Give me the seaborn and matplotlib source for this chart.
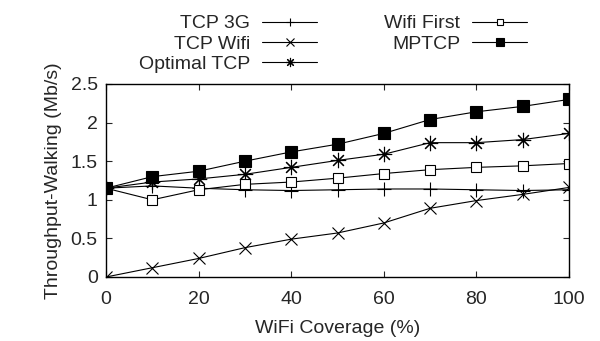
import pandas as pd
import matplotlib
matplotlib.use('Agg')
import matplotlib.pyplot as plt
import seaborn as sns

# Values
coverage = [0, 10, 20, 30, 40, 50, 60, 70, 80, 90, 100]
tcp_3g = [1.15, 1.18, 1.15, 1.13, 1.12, 1.13, 1.14, 1.14, 1.13, 1.12, 1.13]
tcp_wifi = [0.0, 0.12, 0.24, 0.38, 0.49, 0.57, 0.70, 0.89, 0.99, 1.07, 1.16]
optimal_tcp = [1.15, 1.23, 1.27, 1.33, 1.42, 1.51, 1.59, 1.74, 1.74, 1.78, 1.86]
wifi_first = [1.15, 1.00, 1.13, 1.20, 1.23, 1.28, 1.34, 1.39, 1.42, 1.44, 1.47]
mptcp = [1.15, 1.30, 1.37, 1.50, 1.62, 1.72, 1.86, 2.04, 2.14, 2.21, 2.30]

series = {
    'TCP 3G': tcp_3g,
    'TCP Wifi': tcp_wifi,
    'Optimal TCP': optimal_tcp,
    'Wifi First': wifi_first,
    'MPTCP': mptcp,
}
markers = {
    'TCP 3G': dict(marker='+', markersize=10, mfc='black'),
    'TCP Wifi': dict(marker='x', markersize=9, mfc='black'),
    'Optimal TCP': dict(marker=(8, 2, 0), markersize=11, mfc='black'),
    'Wifi First': dict(marker='s', markersize=7.5, mfc='white'),
    'MPTCP': dict(marker='s', markersize=8.5, mfc='black'),
}

sns.set_style('ticks')
plt.rcParams['font.family'] = ['Liberation Sans', 'DejaVu Sans']
plt.rcParams['font.size'] = 14

fig = plt.figure(figsize=(6, 3.41), dpi=100)
ax = fig.add_axes([0.1767, 0.1877, 0.7717, 0.566])

for name, vals in series.items():
    df = pd.DataFrame({'x': coverage, 'y': vals})
    sns.lineplot(data=df, x='x', y='y', ax=ax, color='black', linewidth=0.8,
                 mec='black', mew=0.8, label=name, **markers[name])

ax.set_xlim(0, 100)
ax.set_ylim(0, 2.5)
ax.set_xticks(range(0, 101, 20))
ax.set_yticks([0, 0.5, 1, 1.5, 2, 2.5])
ax.set_yticklabels(['0', '0.5', '1', '1.5', '2', '2.5'])
ax.set_xlabel('WiFi Coverage (%)', labelpad=9)
ax.set_ylabel('Throughput-Walking (Mb/s)', labelpad=6)
ax.tick_params(direction='in', top=True, right=True, length=4.5, width=0.8,
               labelsize=14)
ax.tick_params(axis='x', pad=10)
ax.tick_params(axis='y', pad=6)
for s in ax.spines.values():
    s.set_linewidth(1.0)
    s.set_color('black')

ax.legend(ncol=2, frameon=False, markerfirst=False, handlelength=2.83,
          loc='upper right', bbox_to_anchor=(537 / 600, 0.985),
          bbox_transform=fig.transFigure, columnspacing=3.45,
          labelspacing=0.13, borderpad=0.0, handletextpad=0.62,
          markerscale=0.6, fontsize=14)

fig.savefig('out.png', dpi=100)
